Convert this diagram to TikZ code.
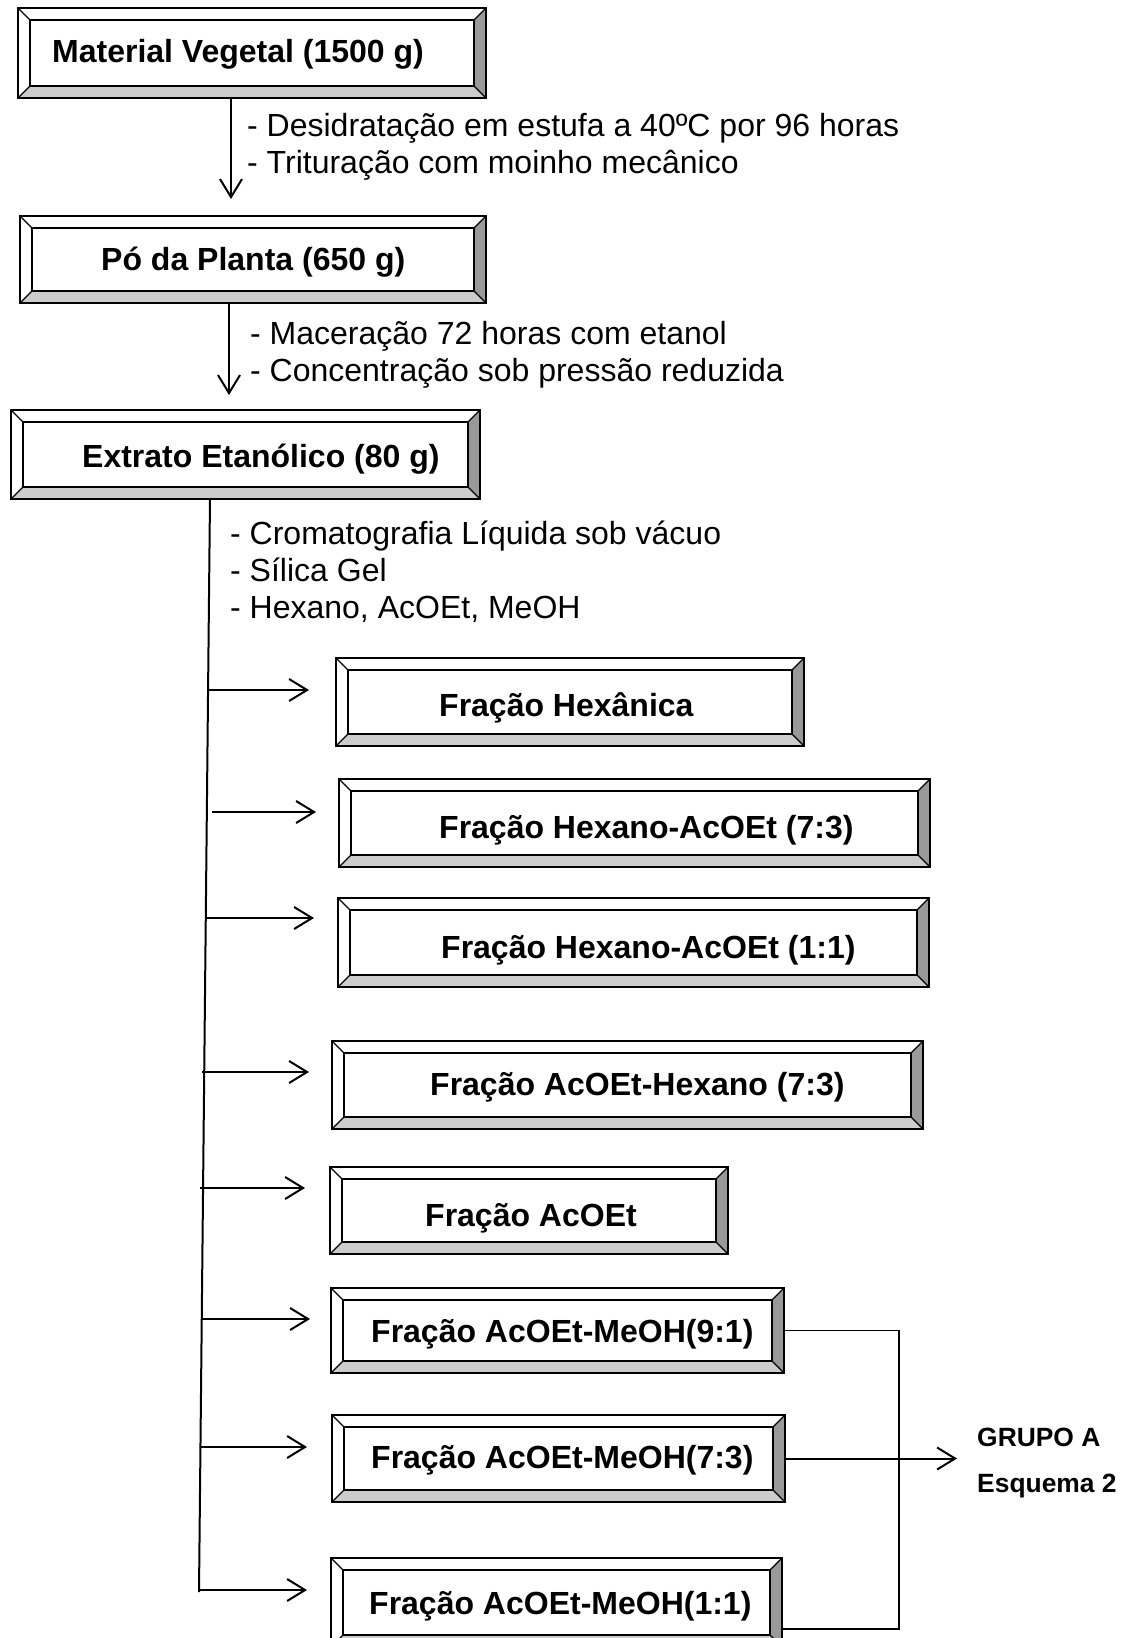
\documentclass[tikz,border=0pt]{standalone}
\usepackage{fontspec}
\setmainfont{Liberation Sans}
\usetikzlibrary{arrows.meta}

\tikzset{
  bevelbox/.style={rectangle, draw, line width=2pt, fill=white, inner sep=0pt, anchor=north west,
    path picture={
      \path (path picture bounding box.south west) coordinate (bvsw)
            (path picture bounding box.south east) coordinate (bvse)
            (path picture bounding box.north east) coordinate (bvne)
            (path picture bounding box.north west) coordinate (bvnw);
      \fill[black!20] (bvsw) -- (bvse) -- ([shift={(-12pt,12pt)}]bvse) -- ([shift={(12pt,12pt)}]bvsw) -- cycle;
      \fill[black!40] (bvse) -- (bvne) -- ([shift={(-12pt,-12pt)}]bvne) -- ([shift={(-12pt,12pt)}]bvse) -- cycle;
      \draw[line width=2pt] ([shift={(12pt,12pt)}]bvsw) rectangle ([shift={(-12pt,-12pt)}]bvne);
      \draw[line width=1.2pt] (bvsw) -- ([shift={(12pt,12pt)}]bvsw)
                              (bvse) -- ([shift={(-12pt,12pt)}]bvse)
                              (bvne) -- ([shift={(-12pt,-12pt)}]bvne)
                              (bvnw) -- ([shift={(12pt,-12pt)}]bvnw);
    }},
  boxlbl/.style={anchor=west, inner sep=0pt, text height=23pt, text depth=0pt,
    font=\bfseries\fontsize{32}{38}\selectfont},
  steps/.style={anchor=north west, inner sep=0pt, align=left, font=\fontsize{32}{37}\selectfont},
  arr/.style={line width=2pt, -{Straight Barb[length=18pt,width=22pt]}},
  link/.style={line width=1.6pt},
}

\begin{document}
\begin{tikzpicture}[x=1pt, y=-1pt]
    \path[use as bounding box, clip] (0,0) rectangle (1136,1638);

    % main sequence
    \node[bevelbox, minimum width=468pt, minimum height=90pt] (b1) at (17,7) {};
    \node[boxlbl] (b1t) at (52,51) {Material Vegetal (1500 g)};
    \node[bevelbox, minimum width=466pt, minimum height=87pt] (b2) at (19,215) {};
    \node[boxlbl] (b2t) at (101,259) {Pó da Planta (650 g)};
    \node[bevelbox, minimum width=469pt, minimum height=89pt] (b3) at (10,409) {};
    \node[boxlbl] (b3t) at (82,456) {Extrato Etanólico (80 g)};

    \draw[arr, shorten >=16pt] ([xshift=-21pt]b1.south) coordinate (a1) -- (a1 |- b2.north);
    \node[steps] (s1) at (247,113) {- Desidratação em estufa a 40ºC por 96 horas\\- Trituração com moinho mecânico};
    \draw[arr, shorten >=14pt] ([xshift=-24pt]b2.south) coordinate (a2) -- (a2 |- b3.north);
    \node[steps] (s2) at (250,321) {- Maceração 72 horas com etanol\\- Concentração sob pressão reduzida};

    % fractions
    \node[bevelbox, minimum width=468pt, minimum height=88pt] (f1) at (335,657) {};
    \node[boxlbl] (f1t) at (439,705) {Fração Hexânica};
    \node[bevelbox, minimum width=591pt, minimum height=88pt] (f2) at (338,778) {};
    \node[boxlbl] (f2t) at (439,827) {Fração Hexano-AcOEt (7:3)};
    \node[bevelbox, minimum width=591pt, minimum height=89pt] (f3) at (337,897) {};
    \node[boxlbl] (f3t) at (441,947) {Fração Hexano-AcOEt (1:1)};
    \node[bevelbox, minimum width=591pt, minimum height=88pt] (f4) at (331,1040) {};
    \node[boxlbl] (f4t) at (430,1084) {Fração AcOEt-Hexano (7:3)};
    \node[bevelbox, minimum width=398pt, minimum height=87pt] (f5) at (329,1166) {};
    \node[boxlbl] (f5t) at (425,1215) {Fração AcOEt};
    \node[bevelbox, minimum width=453pt, minimum height=85pt] (f6) at (330,1287) {};
    \node[boxlbl] (f6t) at (371,1331) {Fração AcOEt-MeOH(9:1)};
    \node[bevelbox, minimum width=453pt, minimum height=87pt] (f7) at (331,1414) {};
    \node[boxlbl] (f7t) at (371,1457) {Fração AcOEt-MeOH(7:3)};
    \node[bevelbox, minimum width=451pt, minimum height=89pt] (f8) at (330,1557) {};
    \node[boxlbl] (f8t) at (369,1603) {Fração AcOEt-MeOH(1:1)};

    % column trunk
    \coordinate (trunktop) at (210,498);
    \coordinate (trunkbot) at (199,1592);
    \draw[link, line width=2pt] (trunktop) -- (trunkbot);
    \node[steps] (s3) at (230,521) {- Cromatografia Líquida sob vácuo\\- Sílica Gel\\- Hexano, AcOEt, MeOH};

    \foreach \n/\x/\y/\g in {f1/207/690/26, f2/212/812/22, f3/207/918/23, f4/202/1072/22,
                             f5/200/1188/24, f6/201/1319/20, f7/200/1447/24, f8/200/1590/23}{
        \coordinate (t\n) at (\x,\y);
        \draw[arr, shorten >=\g pt] (t\n) -- (t\n -| \n.west);
    }

    % group A
    \node[anchor=north west, inner sep=0pt, align=left, font=\bfseries\fontsize{26.4}{46}\selectfont]
        (grupo) at (977,1428) {GRUPO A\\Esquema 2};
    \coordinate (bus) at (899,1457);
    \coordinate (f8j) at ([yshift=-26.5pt]f8.east);
    \draw[link] (f6.east) -| (bus) |- (f8j);
    \draw[arr, shorten >=20pt] (f7.east) -- (f7.east -| grupo.west);
\end{tikzpicture}
\end{document}
